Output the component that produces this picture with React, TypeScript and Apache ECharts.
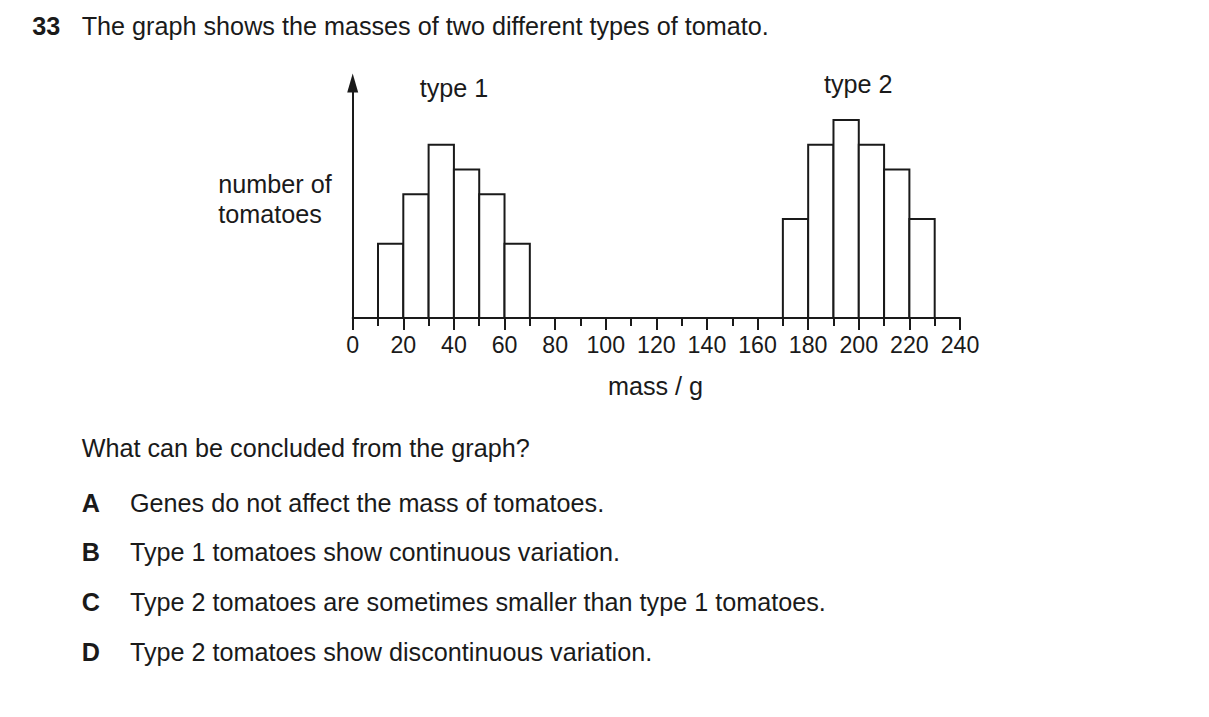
import React, { useEffect, useRef } from "react";
import * as echarts from "echarts";

// histogram bins (mass in g) and tomato counts
const binWidth = 10;
const type1Starts = [10, 20, 30, 40, 50, 60];
const type1Counts = [3, 5, 7, 6, 5, 3];
const type2Starts = [170, 180, 190, 200, 210, 220];
const type2Counts = [4, 7, 8, 7, 6, 4];

const xMin = 0;
const xMax = 240;
const xLabelStep = 20;

const questionTitle = "The graph shows the masses of two different types of tomato.";
const questionText = "What can be concluded from the graph?";
const optionLetters = ["A", "B", "C", "D"];
const optionTexts = [
  "Genes do not affect the mass of tomatoes.",
  "Type 1 tomatoes show continuous variation.",
  "Type 2 tomatoes are sometimes smaller than type 1 tomatoes.",
  "Type 2 tomatoes show discontinuous variation.",
];

const FONT = "'Liberation Sans', Arial, sans-serif";
const INK = "#1a1a1a";

const App: React.FC = () => {
  const chartRef = useRef<HTMLDivElement>(null);

  useEffect(() => {
    const chart = echarts.init(chartRef.current!, undefined, { renderer: "svg" });

    const bins = [
      ...type1Starts.map((s, i) => [s, s + binWidth, type1Counts[i]]),
      ...type2Starts.map((s, i) => [s, s + binWidth, type2Counts[i]]),
    ];

    const txt = (text: string, x: number, y: number, extra: any = {}) => ({
      type: "text",
      x,
      y,
      style: {
        text,
        fill: INK,
        font: `25.2px ${FONT}`,
        textVerticalAlign: "middle",
        ...extra,
      },
    });

    const optionRows = [502.5, 551.7, 601.7, 651.7];

    chart.setOption({
      animation: false,
      backgroundColor: "#fff",
      grid: { left: 352.7, right: 249, top: 83, bottom: 399 },
      xAxis: {
        type: "value",
        min: xMin,
        max: xMax,
        interval: xLabelStep,
        axisLine: { lineStyle: { color: INK, width: 2 } },
        axisTick: { show: true, length: 12, lineStyle: { color: INK, width: 2 } },
        minorTick: { show: true, splitNumber: 2, length: 8, lineStyle: { color: INK, width: 2 } },
        axisLabel: { color: INK, fontSize: 23.2, fontFamily: FONT, margin: 15.5 },
        splitLine: { show: false },
      },
      yAxis: {
        type: "value",
        min: 0,
        max: 9.5,
        axisLine: {
          show: true,
          symbol: ["none", "triangle"],
          symbolSize: [11, 19],
          lineStyle: { color: INK, width: 2 },
        },
        axisTick: { show: false },
        axisLabel: { show: false },
        splitLine: { show: false },
      },
      series: [
        {
          type: "custom",
          data: bins,
          encode: { x: [0, 1], y: 2 },
          renderItem: (params: any, api: any) => {
            const topLeft = api.coord([api.value(0), api.value(2)]);
            const bottomRight = api.coord([api.value(1), 0]);
            return {
              type: "rect",
              shape: {
                x: topLeft[0],
                y: topLeft[1],
                width: bottomRight[0] - topLeft[0],
                height: bottomRight[1] - topLeft[1],
              },
              style: { fill: "#fff", stroke: INK, lineWidth: 2 },
            };
          },
        },
      ],
      graphic: [
        txt("33", 32.3, 26, { font: `bold 25.2px ${FONT}` }),
        txt(questionTitle, 81.7, 26),
        txt("type 1", 454, 87.5, { textAlign: "center" }),
        txt("type 2", 858.3, 84, { textAlign: "center" }),
        txt("number of", 218.3, 184.4),
        txt("tomatoes", 218.3, 213.7),
        txt("mass / g", 655.5, 386, { textAlign: "center" }),
        txt(questionText, 81.7, 448),
        ...optionLetters.map((l, i) => txt(l, 81.7, optionRows[i], { font: `bold 25.2px ${FONT}` })),
        ...optionTexts.map((t, i) => txt(t, 130, optionRows[i])),
      ],
    });

    return () => {
      chart.dispose();
    };
  }, []);

  return (
    <div
      ref={chartRef}
      style={{ position: "absolute", left: 0, top: 0, width: 1209, height: 717 }}
    />
  );
};

export default App;
